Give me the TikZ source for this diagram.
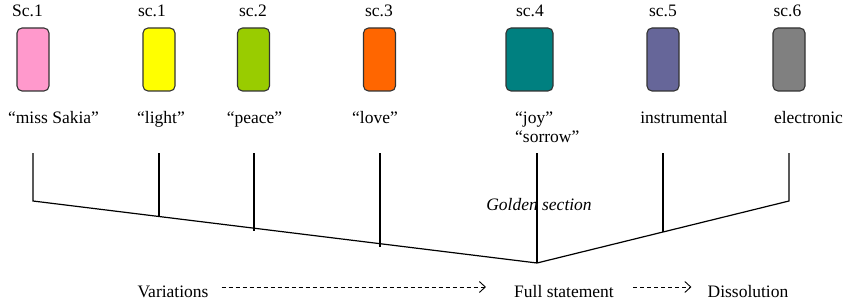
\documentclass[tikz,border=0pt]{standalone}
\usepackage{fontspec}
\setmainfont{Liberation Serif}
\usetikzlibrary{arrows.meta}
\definecolor{cpink}{HTML}{FF99CC}
\definecolor{cyellow}{HTML}{FFFF00}
\definecolor{cgreen}{HTML}{99CC00}
\definecolor{corange}{HTML}{FF6600}
\definecolor{cteal}{HTML}{008080}
\definecolor{cpurple}{HTML}{666699}
\definecolor{cgray}{HTML}{808080}
\definecolor{cborder}{HTML}{333333}
\tikzset{
  scbox/.style={draw=cborder, line width=1.1pt, rounded corners=5pt, minimum width=32pt, minimum height=63pt, inner sep=0pt},
  lbl/.style={inner sep=0pt, anchor=base, font=\fontsize{17.5}{20}\selectfont},
  tree/.style={line width=1.2pt, black},
  dasharrow/.style={line width=0.9pt, dash pattern=on 4pt off 3pt, -{Straight Barb[length=6pt,width=11pt,line width=0.9pt]}}
}
\begin{document}
\begin{tikzpicture}[x=1pt,y=-1pt]
\useasboundingbox (0,0) rectangle (849,305);
% boxes
\node[scbox, fill=cpink]   (b1) at (33,59.5)  {};
\node[scbox, fill=cyellow] (b2) at (159,59.5) {};
\node[scbox, fill=cgreen]  (b3) at (253.5,59.5) {};
\node[scbox, fill=corange] (b4) at (379.5,59.5) {};
\node[scbox, fill=cteal, minimum width=47pt] (b5) at (529.5,59.5) {};
\node[scbox, fill=cpurple] (b6) at (663,59.5) {};
\node[scbox, fill=cgray]   (b7) at (789,59.5) {};
% top labels
\node[lbl] (t1) at (27.5,17) {Sc.1};
\node[lbl] (t2) at (152,17) {sc.1};
\node[lbl] (t3) at (253,17) {sc.2};
\node[lbl] (t4) at (379,17) {sc.3};
\node[lbl] (t5) at (530,17) {sc.4};
\node[lbl] (t6) at (663,17) {sc.5};
\node[lbl] (t7) at (787.5,17) {sc.6};
% lower labels
\node[lbl] (l1) at (53.5,123) {“miss Sakia”};
\node[lbl] (l2) at (161,123) {“light”};
\node[lbl] (l3) at (254.5,123) {“peace”};
\node[lbl] (l4) at (375,123) {“love”};
\node[lbl, anchor=base west] (l5a) at (515,123) {“joy”};
\node[lbl, anchor=base west] (l5b) at (515,142) {“sorrow”};
\node[lbl] (l6) at (684,123) {instrumental};
\node[lbl] (l7) at (808.5,123) {electronic};
% tree
\coordinate (p1) at (33,201);
\coordinate (pm) at (537,263);
\coordinate (p7) at (789,201);
\coordinate (v1) at (33,153);
\coordinate (v2) at (159,153);
\coordinate (v3) at (254,153);
\coordinate (v4) at (380,153);
\coordinate (v5) at (537,153);
\coordinate (v6) at (663,153);
\coordinate (v7) at (789,153);
\draw[tree] (v1) -- (p1) -- (pm) -- (p7) -- (v7);
\draw[tree] (v2) -- (159,217);
\draw[tree] (v3) -- (254,231);
\draw[tree] (v4) -- (380,247);
\draw[tree] (v5) -- (pm);
\draw[tree] (v6) -- (663,232);
\node[lbl, font=\fontsize{17.5}{20}\selectfont\itshape] (gs) at (539,210) {Golden section};
% bottom row
\node[lbl] (var) at (173,297) {Variations};
\node[lbl] (full) at (564,297) {Full statement};
\node[lbl] (dis) at (748,297) {Dissolution};
\draw[dasharrow] ([shift={(13,-10)}]var.base east) -- ([shift={(-28,-10)}]full.base west);
\draw[dasharrow] ([shift={(19,-10)}]full.base east) -- ([shift={(-16,-10)}]dis.base west);
\end{tikzpicture}
\end{document}
